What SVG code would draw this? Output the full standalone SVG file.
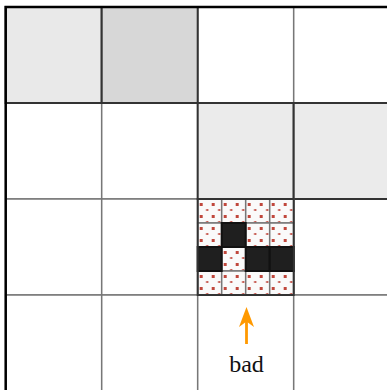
<svg xmlns="http://www.w3.org/2000/svg" width="387" height="390" viewBox="0 0 387 390">
<defs>
<style>
.c{fill:#fff;stroke:#777;stroke-width:1.5}
.h{stroke:#333;stroke-width:2}
.s{fill:url(#dots);stroke:#777;stroke-width:1.5}
.k{fill:#1f1f1f;stroke:#111;stroke-width:2}
.lbl{font-family:"Liberation Serif","DejaVu Serif",serif;font-size:24px;fill:#111}
</style>
<pattern id="dots" patternUnits="userSpaceOnUse" x="197.7" y="199" width="12" height="12">
<rect width="12" height="12" fill="#fafafa"/>
<rect x="2" y="4" width="3" height="3" fill="#c0473c"/>
<rect x="8.5" y="10" width="2" height="2" fill="#c0473c"/>
</pattern>
</defs>
<rect width="387" height="390" fill="#fff"/>
<g id="grid">
<g id="r0c0"><rect class="c" x="5.7" y="7" width="96" height="96"/></g>
<g id="r0c1"><rect class="c" x="101.7" y="7" width="96" height="96"/></g>
<g id="r0c2"><rect class="c" x="197.7" y="7" width="96" height="96"/></g>
<g id="r0c3"><rect class="c" x="293.7" y="7" width="96" height="96"/></g>
<g id="r1c0"><rect class="c" x="5.7" y="103" width="96" height="96"/></g>
<g id="r1c1"><rect class="c" x="101.7" y="103" width="96" height="96"/></g>
<g id="r1c2"><rect class="c" x="197.7" y="103" width="96" height="96"/></g>
<g id="r1c3"><rect class="c" x="293.7" y="103" width="96" height="96"/></g>
<g id="r2c0"><rect class="c" x="5.7" y="199" width="96" height="96"/></g>
<g id="r2c1"><rect class="c" x="101.7" y="199" width="96" height="96"/></g>
<g id="r2c3"><rect class="c" x="293.7" y="199" width="96" height="96"/></g>
<g id="r3c0"><rect class="c" x="5.7" y="295" width="96" height="96"/></g>
<g id="r3c1"><rect class="c" x="101.7" y="295" width="96" height="96"/></g>
<g id="r3c2"><rect class="c" x="197.7" y="295" width="96" height="96"/></g>
<g id="r3c3"><rect class="c" x="293.7" y="295" width="96" height="96"/></g>
</g>
<g id="highlighted">
<g id="h00"><rect class="h" x="5.7" y="7" width="96" height="96" fill="#e9e9e9"/></g>
<g id="h01"><rect class="h" x="101.7" y="7" width="96" height="96" fill="#d7d7d7"/></g>
<g id="h12"><rect class="h" x="197.7" y="103" width="96" height="96" fill="#ebebeb"/></g>
<g id="h13"><rect class="h" x="293.7" y="103" width="96" height="96" fill="#ebebeb"/></g>
</g>
<g id="r2c2">
<rect class="s" x="197.7" y="199" width="24" height="24"/>
<rect class="s" x="221.7" y="199" width="24" height="24"/>
<rect class="s" x="245.7" y="199" width="24" height="24"/>
<rect class="s" x="269.7" y="199" width="24" height="24"/>
<rect class="s" x="197.7" y="223" width="24" height="24"/>
<rect class="s" x="245.7" y="223" width="24" height="24"/>
<rect class="s" x="269.7" y="223" width="24" height="24"/>
<rect class="s" x="221.7" y="247" width="24" height="24"/>
<rect class="s" x="197.7" y="271" width="24" height="24"/>
<rect class="s" x="221.7" y="271" width="24" height="24"/>
<rect class="s" x="245.7" y="271" width="24" height="24"/>
<rect class="s" x="269.7" y="271" width="24" height="24"/>
<rect class="k" x="221.7" y="223" width="24" height="24"/>
<rect class="k" x="197.7" y="247" width="24" height="24"/>
<rect class="k" x="245.7" y="247" width="24" height="24"/>
<rect class="k" x="269.7" y="247" width="24" height="24"/>
<rect x="197.7" y="199" width="96" height="96" fill="none" stroke="#333" stroke-width="2"/>
</g>
<g id="border"><path d="M5.7,391 V7 H390" fill="none" stroke="#000" stroke-width="2.5"/></g>
<g id="connectors">
<line x1="246.5" y1="344" x2="246.5" y2="318" stroke="#ff9900" stroke-width="2.8"/>
<path d="M246.5,307 L254,327 L246.5,321.5 L239,327 Z" fill="#ff9900"/>
</g>
<g id="label"><text class="lbl" x="246.5" y="371.5" text-anchor="middle">bad</text></g>
</svg>
